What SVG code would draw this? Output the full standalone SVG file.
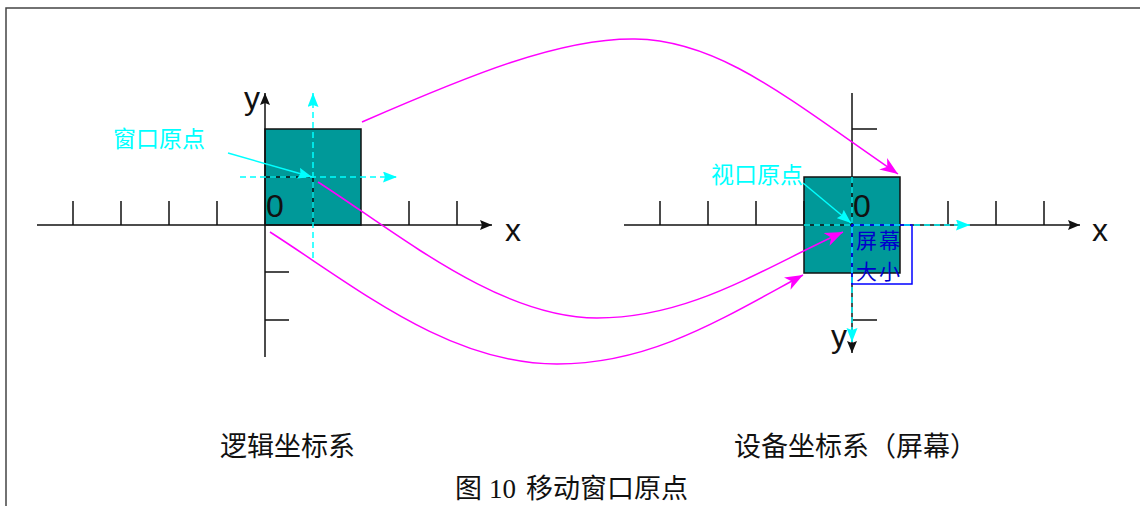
<svg xmlns="http://www.w3.org/2000/svg" width="1140" height="506" viewBox="0 0 1140 506">
<style>
.ax{stroke:#111;stroke-width:1.5;fill:none}
.win{fill:#009999;stroke:#111;stroke-width:1.5}
.cd{stroke:#00FFFF;stroke-width:1.5;stroke-dasharray:6 4;fill:none}
.cs{stroke:#00FFFF;stroke-width:1.5;fill:none}
.mg{stroke:#FF00FF;stroke-width:1.5;fill:none}
.lat{font-family:"Liberation Sans",Arial,sans-serif;font-size:32px;fill:#111}
.cy{font-family:"Noto Sans CJK SC",sans-serif;font-size:23px;fill:#00FFFF}
.bl{font-family:"Noto Sans CJK SC",sans-serif;font-size:21px;letter-spacing:2px;fill:#0000CC}
.cap{font-family:"Liberation Serif","Noto Sans CJK SC",serif;font-size:27px;fill:#111}
</style>
<defs>
<marker id="ab" markerUnits="userSpaceOnUse" markerWidth="14" markerHeight="12" refX="12" refY="5" orient="auto"><path d="M0,0 L12,5 L0,10 L2,5 z" fill="#111"/></marker>
<marker id="ac" markerUnits="userSpaceOnUse" markerWidth="16" markerHeight="12" refX="14" refY="5.5" orient="auto"><path d="M0,0 L14,5.5 L0,11 L2,5.5 z" fill="#00FFFF"/></marker>
<marker id="am" markerUnits="userSpaceOnUse" markerWidth="20" markerHeight="16" refX="18" refY="7" orient="auto"><path d="M0,0 L18,7 L0,14 L5,7 z" fill="#FF00FF"/></marker>
</defs>
<rect width="1140" height="506" fill="#fff"/>
<path d="M6,506 V8 H1140" fill="none" stroke="#444" stroke-width="1.5"/>

<g id="logical-window">
<rect class="win" x="265" y="129" width="96" height="96"/>
</g>
<g id="device-viewport">
<rect class="win" x="804" y="177" width="96" height="96"/>
</g>

<g id="logical-axes">
<line class="ax" x1="37" y1="225" x2="492" y2="225" marker-end="url(#ab)"/>
<line class="ax" x1="265" y1="357" x2="265" y2="93" marker-end="url(#ab)"/>
<path class="ax" d="M73,201V225 M121,201V225 M169,201V225 M217,201V225 M409,201V225 M457,201V225 M265,272H289 M265,320H289 M265,177H313V225"/>
<text class="lat" x="244" y="109">y</text>
<text class="lat" x="505" y="241">x</text>
<text class="lat" x="266" y="217">0</text>
</g>

<g id="device-axes">
<line class="ax" x1="624" y1="225" x2="1080" y2="225" marker-end="url(#ab)"/>
<line class="ax" x1="852" y1="93" x2="852" y2="353" marker-end="url(#ab)"/>
<path class="ax" d="M660,201V225 M708,201V225 M756,201V225 M804,201V225 M948,201V225 M996,201V225 M1044,201V225 M852,129H877 M852,320H877"/>
<text class="lat" x="831" y="347">y</text>
<text class="lat" x="1092" y="241">x</text>
<text class="lat" x="853" y="217">0</text>
</g>

<g id="screen-size">
<rect x="852" y="225" width="60" height="59" fill="none" stroke="#0000FF" stroke-width="1.5"/>
<text class="bl" x="856" y="248">屏幕</text>
<text class="bl" x="856" y="279">大小</text>
</g>

<g id="window-origin-label">
<text class="cy" x="113" y="147">窗口原点</text>
</g>
<g id="viewport-origin-label">
<text class="cy" x="711" y="183">视口原点</text>
</g>

<g id="connectors">
<line class="cd" x1="240" y1="177" x2="397" y2="177" marker-end="url(#ac)"/>
<line class="cd" x1="313" y1="258" x2="313" y2="93" marker-end="url(#ac)"/>
<line class="cd" x1="804" y1="225" x2="970" y2="225" marker-end="url(#ac)"/>
<line class="cd" x1="852" y1="177" x2="852" y2="342" marker-end="url(#ac)"/>
<line class="cs" x1="228" y1="153" x2="312" y2="177" marker-end="url(#ac)"/>
<line class="cs" x1="803" y1="183" x2="851" y2="223" marker-end="url(#ac)"/>
<path class="mg" d="M362,122 C470,75 560,38 635,39 C720,40 790,100 898,174" marker-end="url(#am)"/>
<path class="mg" d="M318,182 C400,235 500,318 597,318 C690,318 760,270 843,232" marker-end="url(#am)"/>
<path class="mg" d="M270,232 C360,290 450,364 557,364 C650,364 720,320 803,275" marker-end="url(#am)"/>
</g>

<g id="captions">
<text class="cap" x="220" y="456">逻辑坐标系</text>
<text class="cap" x="734" y="456">设备坐标系（屏幕）</text>
<text class="cap" x="455" y="498">图<tspan dx="7">10</tspan><tspan dx="10">移动窗口原点</tspan></text>
</g>
</svg>
